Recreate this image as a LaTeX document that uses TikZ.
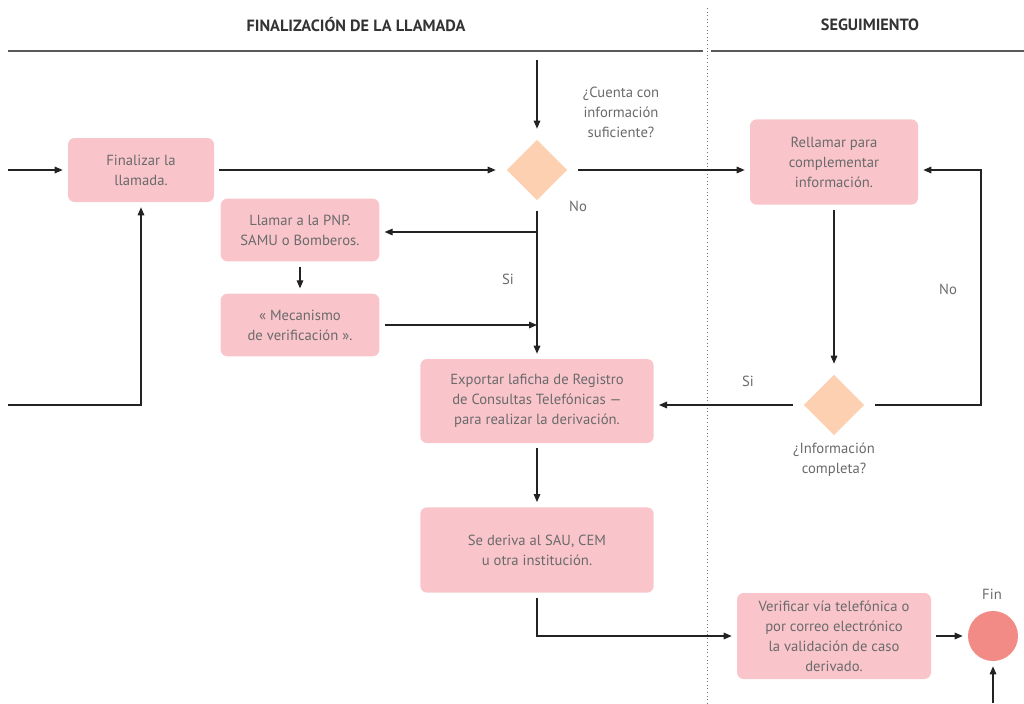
\documentclass[tikz,border=0pt]{standalone}
\usepackage{fontspec}
\setmainfont{PT Sans}
\usetikzlibrary{arrows.meta,shapes.geometric,positioning}

\definecolor{boxpink}{HTML}{F9C5CB}
\definecolor{qorange}{HTML}{FCD0B1}
\definecolor{endred}{HTML}{F28B86}
\definecolor{txtgrey}{HTML}{6A6A6A}
\definecolor{linedark}{HTML}{222222}

\tikzset{
  boxnode/.style={rectangle,rounded corners=5pt,fill=boxpink,text=txtgrey,align=center,
    font=\fontsize{11}{15}\selectfont,outer sep=4pt,inner sep=2pt},
  decision/.style={diamond,fill=qorange,minimum size=50pt,inner sep=0pt,outer sep=6pt},
  endnode/.style={circle,fill=endred,minimum size=37.5pt,inner sep=0pt,outer sep=4pt},
  lbl/.style={text=txtgrey,align=center,font=\fontsize{11}{15}\selectfont},
  head/.style={text=black!80,font=\fontsize{12.2}{14}\selectfont\bfseries},
  arr/.style={-{Triangle[length=6pt,width=5pt]},draw=linedark,line width=0.8pt},
  plain/.style={draw=linedark,line width=0.8pt}
}

\begin{document}
\begin{tikzpicture}[x=0.75pt,y=-0.75pt]
  \useasboundingbox (0,0) rectangle (1024,703);

  % headers
  \node[head] (h1) at (356,25) {FINALIZACIÓN DE LA LLAMADA};
  \node[head] (h2) at (870,25) {SEGUIMIENTO};
  \draw[black!65,line width=1.2pt] (8,51) -- (703,51);
  \draw[black!65,line width=1.2pt] (711,51) -- (1024,51);
  \draw[black!55,dotted,line width=0.7pt] (707,8) -- (707,703);

  % nodes
  \node[boxnode,minimum width=109.5pt,minimum height=48pt] (fin) at (141,170) {Finalizar la\\llamada.};
  \node[decision] (q1) at (537,170) {};
  \node[boxnode,minimum width=126pt,minimum height=64pt] (rell) at (834,162) {Rellamar para\\complementar\\información.};
  \node[boxnode,minimum width=119pt,minimum height=47pt] (llam) at (300,230) {Llamar a la PNP.\\SAMU o Bomberos.};
  \node[boxnode,minimum width=119pt,minimum height=47pt] (meca) at (300,325) {« Mecanismo\\de verificación ».};
  \node[boxnode,minimum width=175pt,minimum height=63pt] (expo) at (537,401) {Exportar laficha de Registro\\de Consultas Telefónicas —\\para realizar la derivación.};
  \node[decision] (q2) at (834,405) {};
  \node[boxnode,minimum width=175pt,minimum height=64pt] (deriv) at (537,550) {Se deriva al SAU, CEM\\u otra institución.};
  \node[boxnode,minimum width=145.5pt,minimum height=64.5pt] (veri) at (834,636) {Verificar vía telefónica o\\por correo electrónico\\la validación de caso\\derivado.};
  \node[endnode] (endc) at (993,636) {};

  % labels
  \node[lbl] (q1txt) at (621,112) {¿Cuenta con\\información\\suficiente?};
  \node[lbl] (q1no) at (578,206) {No};
  \node[lbl] (q1si) at (508,279) {Si};
  \node[lbl] (q2txt) at (834,460) {¿Información\\completa?};
  \node[lbl] (q2si) at (748,381) {Si};
  \node[lbl] (q2no) at (948,289) {No};
  \node[lbl] (fintxt) at (992,594) {Fin};

  % free ends
  \coordinate (inA) at (8,170);
  \coordinate (inB) at (8,405);
  \coordinate (topA) at (537,60);
  \coordinate (brA) at (537,232);
  \coordinate (inF) at (993,703);
  \coordinate (rb) at (981,170);

  % connectors
  \draw[arr] (inA) -- (fin);
  \draw[arr] (fin) -- (q1);
  \draw[arr] (topA) -- (q1);
  \draw[arr] (q1) -- (q1 -| rell.west);
  \draw[arr] (q1) -- (expo);
  \draw[arr] (brA) -- (brA -| llam.east);
  \draw[arr] (llam) -- (meca);
  \draw[arr] (meca) -- (meca -| q1);
  \draw[arr] (inB) -| (fin);
  \draw[arr] (expo) -- (deriv);
  \draw[arr] (deriv) |- (veri);
  \draw[arr] (veri) -- (endc);
  \draw[arr] (inF) -- (endc);
  \draw[arr] (rell) -- (q2);
  \draw[arr] (q2) -- (q2 -| expo.east);
  \draw[arr] (q2) -| (rb) -- (rb -| rell.east);
\end{tikzpicture}
\end{document}
